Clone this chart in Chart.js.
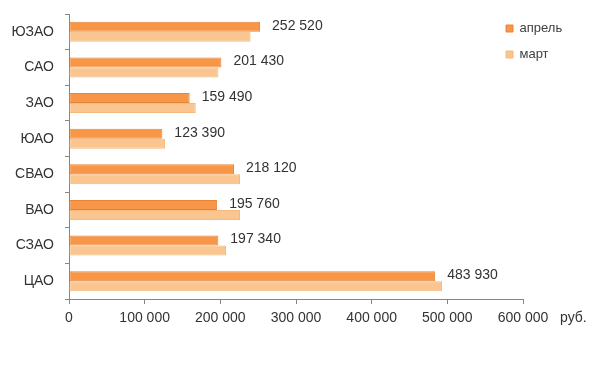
<!DOCTYPE html>
<html>
<head>
<meta charset="utf-8">
<script src="https://cdn.jsdelivr.net/npm/chart.js@4.4.1/dist/chart.umd.min.js"></script>
<style>
  html, body { margin: 0; padding: 0; background: #ffffff; }
  #wrap { width: 600px; height: 380px; position: relative; }
</style>
</head>
<body>
<div id="wrap"><canvas id="c" width="600" height="380"></canvas></div>
<script>
// ---- data ----
const categories = ['ЮЗАО', 'САО', 'ЗАО', 'ЮАО', 'СВАО', 'ВАО', 'СЗАО', 'ЦАО'];
const seriesNames = ['апрель', 'март'];
const aprilValues = [252520, 201430, 159490, 123390, 218120, 195760, 197340, 483930];
const marchValues = [240000, 197500, 167500, 127000, 226000, 226000, 207500, 493000];
const xTickMax = 600000;
const xTickStep = 100000;
const unitLabel = 'руб.';

const FONT = '"Liberation Sans", Arial, sans-serif';
const TEXT = '#333333';
const AXIS = '#868686';

function fmt(v) {
  return String(v).replace(/\B(?=(\d{3})+(?!\d))/g, ' ');
}

const valueLabels = {
  id: 'valueLabels',
  afterDatasetsDraw(chart) {
    const ctx = chart.ctx;
    const meta = chart.getDatasetMeta(0);
    ctx.save();
    ctx.font = '14px ' + FONT;
    ctx.fillStyle = TEXT;
    ctx.textAlign = 'left';
    ctx.textBaseline = 'middle';
    meta.data.forEach((bar, i) => {
      ctx.fillText(fmt(chart.data.datasets[0].data[i]), bar.x + 12, bar.y - 1);
    });
    ctx.restore();
  }
};

const unitPlugin = {
  id: 'unitPlugin',
  afterDraw(chart) {
    const xs = chart.scales.x;
    const ctx = chart.ctx;
    ctx.save();
    ctx.font = '14px ' + FONT;
    ctx.fillStyle = TEXT;
    ctx.textAlign = 'left';
    ctx.textBaseline = 'middle';
    ctx.fillText(unitLabel, xs.getPixelForValue(xTickMax) + 37, xs.top + 19);
    ctx.restore();
  }
};

const legendShift = {
  id: 'legendShift',
  afterLayout(chart) {
    const lg = chart.legend;
    if (!lg) return;
    const w = lg.width, h = lg.height;
    lg.left = chart.chartArea.right - 30;
    lg.top = 9;
    lg.right = lg.left + w;
    lg.bottom = lg.top + h;
    if (lg.adjustHitBoxes) lg.adjustHitBoxes();
  }
};

new Chart(document.getElementById('c'), {
  type: 'bar',
  data: {
    labels: categories,
    datasets: [
      {
        label: seriesNames[0],
        data: aprilValues,
        backgroundColor: '#F79646',
        borderColor: '#E8843A',
        borderWidth: 1,
        borderSkipped: false,
        categoryPercentage: 0.5625,
        barPercentage: 1.0
      },
      {
        label: seriesNames[1],
        data: marchValues,
        backgroundColor: '#FAC58E',
        borderColor: '#F4B97C',
        borderWidth: 1,
        borderSkipped: false,
        categoryPercentage: 0.5625,
        barPercentage: 1.0
      }
    ]
  },
  options: {
    indexAxis: 'y',
    responsive: false,
    animation: false,
    layout: { padding: { top: 14, right: 77, bottom: 0, left: 0 } },
    scales: {
      x: {
        min: 0,
        max: xTickMax,
        ticks: {
          stepSize: xTickStep,
          color: TEXT,
          font: { family: FONT, size: 14 },
          padding: 6,
          callback: (v) => fmt(v)
        },
        grid: {
          display: true,
          drawOnChartArea: false,
          drawTicks: true,
          tickLength: 5,
          color: AXIS
        },
        border: { display: true, color: AXIS, width: 1 },
        afterFit(scale) {
          scale.height = 81;
          scale.paddingLeft = 0;
          scale.paddingRight = 0;
        }
      },
      y: {
        ticks: {
          color: TEXT,
          font: { family: FONT, size: 14 },
          padding: 11
        },
        grid: {
          display: true,
          drawOnChartArea: false,
          drawTicks: true,
          tickLength: 4,
          offset: true,
          color: AXIS
        },
        border: { display: true, color: AXIS, width: 1 },
        afterFit(scale) {
          scale.width = 69;
          scale.paddingTop = 0;
          scale.paddingBottom = 0;
        }
      }
    },
    plugins: {
      legend: {
        position: 'chartArea',
        align: 'start',
        labels: {
          boxWidth: 7,
          boxHeight: 7,
          padding: 13,
          color: '#404040',
          font: { family: FONT, size: 13 }
        }
      },
      tooltip: { enabled: false }
    }
  },
  plugins: [valueLabels, unitPlugin, legendShift]
});
</script>
</body>
</html>
